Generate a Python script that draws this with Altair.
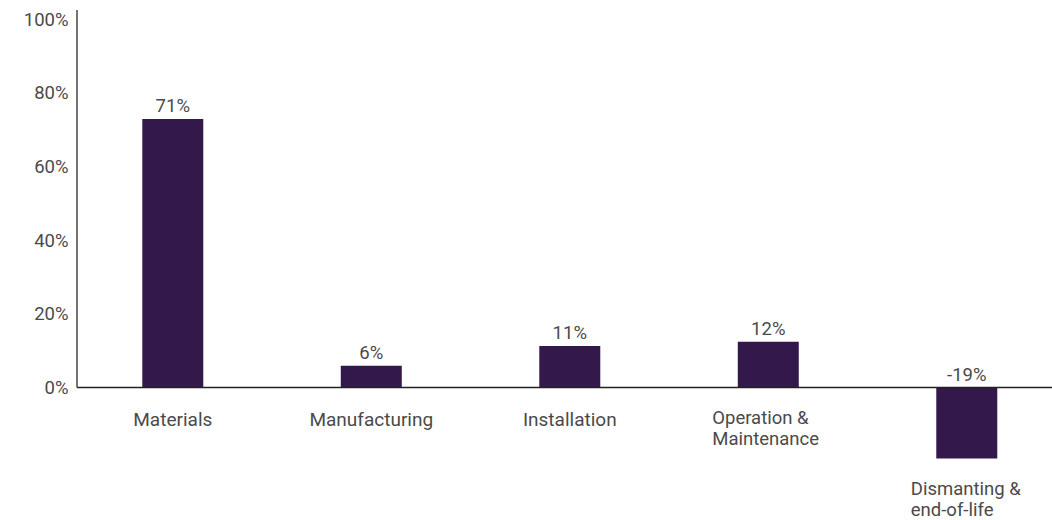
import altair as alt
import pandas as pd

categories = ["Materials", "Manufacturing", "Installation",
              "Operation &\nMaintenance", "Dismanting &\nend-of-life"]
values = [72.9, 5.9, 11.3, 12.4, -19.3]
value_labels = ["71%", "6%", "11%", "12%", "-19%"]
y_ticks = [0, 20, 40, 60, 80, 100]

df = pd.DataFrame({"cat": categories, "val": values, "lab": value_labels})
df["top"] = df["val"].clip(lower=0)
df["bottom"] = df["val"].clip(upper=0)
df["multi"] = df["cat"].str.contains("\n")

FONT = "Roboto"
TXT = "#4a4a4a"
BAR = "#33194b"

xscale = alt.Scale(domain=categories, paddingInner=0.6927, paddingOuter=0.3023, align=0.544)
yscale = alt.Scale(domain=[-30, 102.5], nice=False, zero=False)

base = alt.Chart(df)

bars = base.mark_bar(color=BAR).encode(
    x=alt.X("cat:N", scale=xscale, sort=categories, axis=None),
    y=alt.Y("val:Q", scale=yscale,
            axis=alt.Axis(values=y_ticks, labelExpr="datum.value + '%'", grid=False,
                          domain=False, ticks=False, labelPadding=9, title=None,
                          labelFont=FONT, labelFontSize=18.5, labelColor=TXT)),
    y2=alt.datum(0),
)

vlabels = base.mark_text(baseline="bottom", dy=-3, font=FONT, fontSize=18.5, color=TXT).encode(
    x=alt.X("cat:N", scale=xscale, sort=categories),
    y=alt.Y("top:Q", scale=yscale),
    text="lab:N",
)

single = base.transform_filter("!datum.multi").mark_text(
    baseline="top", dy=23, font=FONT, fontSize=19, color=TXT, lineBreak="\n"
).encode(
    x=alt.X("cat:N", scale=xscale, sort=categories),
    y=alt.Y("bottom:Q", scale=yscale),
    text="cat:N",
)

multi = base.transform_filter("datum.multi").mark_text(
    baseline="top", align="left", dx=-56, dy=21, font=FONT, fontSize=18.5, color=TXT,
    lineBreak="\n", lineHeight=21
).encode(
    x=alt.X("cat:N", scale=xscale, sort=categories),
    y=alt.Y("bottom:Q", scale=yscale),
    text="cat:N",
)

zero = alt.Chart(pd.DataFrame({"z": [0]})).mark_rule(color="#222222", strokeWidth=1.5).encode(
    y=alt.Y("z:Q", scale=yscale), x=alt.value(0), x2=alt.value(975)
)
yline = alt.Chart(pd.DataFrame({"a": [0], "b": [102.5]})).mark_rule(color="#444444", strokeWidth=1.5).encode(
    x=alt.value(0), y=alt.Y("a:Q", scale=yscale), y2="b:Q"
)

chart = alt.layer(bars, zero, yline, vlabels, single, multi).properties(
    width=975, height=488,
    padding={"left": 77, "top": 10, "right": 0, "bottom": 22},
    autosize=alt.AutoSizeParams(type="none"),
    background="white",
).configure_view(strokeWidth=0, stroke="transparent")

chart.save("out.html", embed_options={"renderer": "svg", "actions": False})
